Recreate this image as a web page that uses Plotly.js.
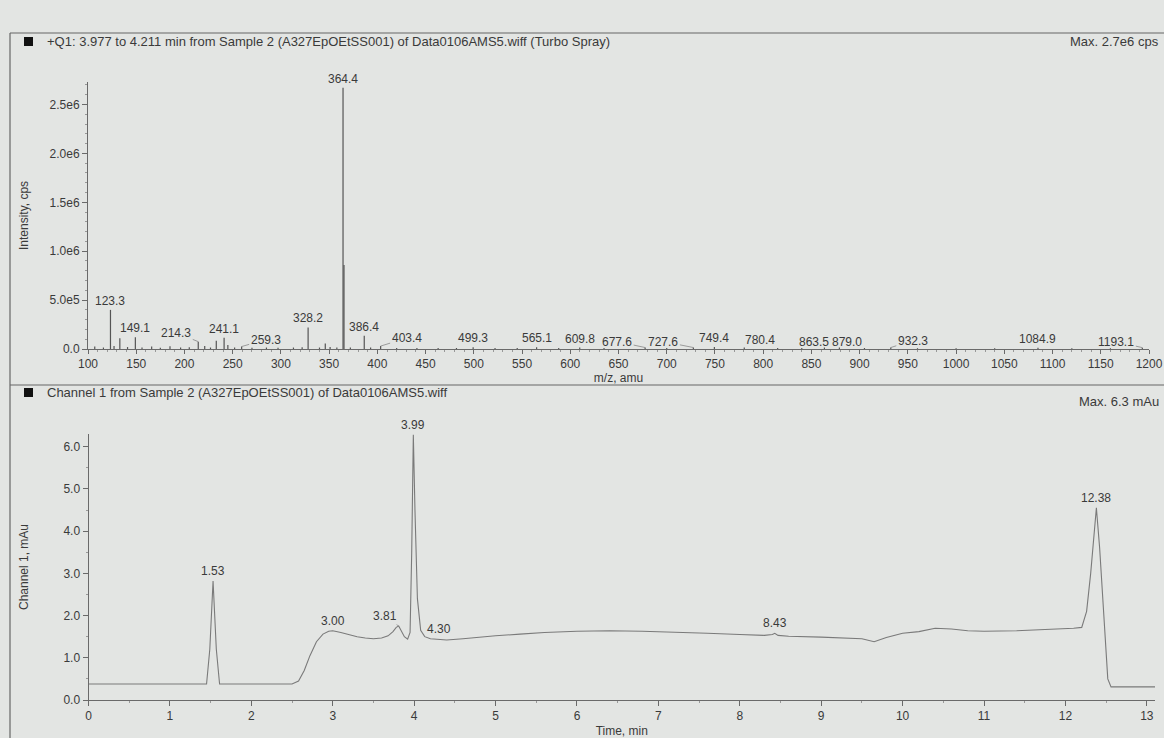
<!DOCTYPE html>
<html>
<head>
<meta charset="utf-8">
<script src="https://cdn.plot.ly/plotly-3.0.1.min.js"></script>
<style>
  html, body { margin: 0; padding: 0; background: #e3e5e3; }
  #chart { width: 1164px; height: 738px; }
</style>
</head>
<body>
<div id="chart"></div>
<script>
// ---------- Mass spectrum (top panel) ----------
const spectrumMz = [107, 116, 123.3, 127, 133, 141, 149.1, 156, 166, 175, 185, 196, 205, 214.3, 221, 227, 233, 241.1, 245, 252, 259.3, 270, 285, 297, 313, 322, 328.2, 340, 346, 351, 358, 364.4, 365.4, 372, 386.4, 393, 403.4, 420, 441, 463, 482, 499.3, 522, 545, 565.1, 588, 609.8, 635, 677.6, 700, 727.6, 749.4, 780.4, 815, 840, 863.5, 879.0, 905, 932.3, 960, 1000, 1040, 1084.9, 1120, 1160, 1193.1];
const spectrumIntensity = [2.5e4, 1.5e4, 4.0e5, 3.0e4, 1.1e5, 2.0e4, 1.2e5, 1.5e4, 2.5e4, 1.2e4, 2.8e4, 1.5e4, 1.8e4, 7.5e4, 3.0e4, 1.5e4, 8.5e4, 1.15e5, 4.0e4, 1.5e4, 2.5e4, 1.2e4, 1.5e4, 1.2e4, 1.5e4, 1.8e4, 2.2e5, 1.5e4, 5.5e4, 2.0e4, 1.5e4, 2.67e6, 8.6e5, 1.5e4, 1.35e5, 1.5e4, 3.0e4, 1.0e4, 1.0e4, 1.0e4, 1.0e4, 1.8e4, 1.0e4, 1.0e4, 1.8e4, 1.0e4, 1.5e4, 1.0e4, 1.5e4, 1.0e4, 1.5e4, 2.0e4, 1.6e4, 1.0e4, 1.0e4, 1.5e4, 1.5e4, 1.0e4, 1.5e4, 0.8e4, 0.8e4, 0.8e4, 1.4e4, 0.8e4, 0.8e4, 1.4e4];
const labeledMz = [123.3, 149.1, 214.3, 241.1, 259.3, 328.2, 364.4, 386.4, 403.4, 499.3, 565.1, 609.8, 677.6, 727.6, 749.4, 780.4, 863.5, 879.0, 932.3, 1084.9, 1193.1];
const mzTickVals = [100, 150, 200, 250, 300, 350, 400, 450, 500, 550, 600, 650, 700, 750, 800, 850, 900, 950, 1000, 1050, 1100, 1150, 1200];
const intensityTickVals = [0, 5e5, 1e6, 1.5e6, 2e6, 2.5e6];
const intensityTickText = ["0.0", "5.0e5", "1.0e6", "1.5e6", "2.0e6", "2.5e6"];

// ---------- Chromatogram (bottom panel) ----------
const timeMin = [0, 1.45, 1.49, 1.53, 1.57, 1.61, 2.5, 2.58, 2.65, 2.72, 2.8, 2.88, 2.95, 3.0, 3.1, 3.2, 3.3, 3.4, 3.5, 3.6, 3.68, 3.74, 3.78, 3.81, 3.84, 3.88, 3.92, 3.95, 3.97, 3.99, 4.01, 4.04, 4.08, 4.13, 4.2, 4.3, 4.4, 4.6, 4.8, 5.0, 5.3, 5.6, 6.0, 6.4, 6.8, 7.2, 7.6, 8.0, 8.3, 8.4, 8.43, 8.47, 8.6, 9.0, 9.3, 9.5, 9.65, 9.8, 10.0, 10.2, 10.4, 10.6, 10.8, 11.0, 11.4, 11.8, 12.1, 12.2, 12.26, 12.31, 12.35, 12.38, 12.42, 12.47, 12.52, 12.56, 13.1];
const absorbance = [0.38, 0.38, 1.2, 2.82, 1.2, 0.38, 0.38, 0.45, 0.7, 1.05, 1.38, 1.56, 1.63, 1.64, 1.6, 1.55, 1.5, 1.47, 1.45, 1.47, 1.52, 1.62, 1.72, 1.75, 1.65, 1.5, 1.44, 1.6, 3.5, 6.28, 4.5, 2.4, 1.65, 1.5, 1.45, 1.44, 1.42, 1.45, 1.49, 1.52, 1.56, 1.6, 1.63, 1.64, 1.63, 1.61, 1.58, 1.55, 1.53, 1.55, 1.58, 1.53, 1.51, 1.49, 1.47, 1.45, 1.38, 1.48, 1.58, 1.62, 1.7, 1.68, 1.64, 1.63, 1.64, 1.67, 1.7, 1.72, 2.1, 3.0, 3.9, 4.55, 3.6, 2.0, 0.5, 0.31, 0.31];
const labeledTimes = [1.53, 3.00, 3.81, 3.99, 4.30, 8.43, 12.38];
const timeTickVals = [0, 1, 2, 3, 4, 5, 6, 7, 8, 9, 10, 11, 12, 13];
const mauTickVals = [0, 1, 2, 3, 4, 5, 6];
const mauTickText = ["0.0", "1.0", "2.0", "3.0", "4.0", "5.0", "6.0"];

// ---------- styling (not data) ----------
const W = 1164, H = 738;
const px = v => v / W;           // pixel -> paper x
const py = v => 1 - v / H;       // pixel -> paper y
const ink = '#3a3a3a';
const lineInk = '#6a6a6a';
const FONT = 'Liberation Sans, Arial, sans-serif';

// stick spectrum built from the data arrays
const stickX = [], stickY = [];
spectrumMz.forEach((m, i) => { stickX.push(m, m, null); stickY.push(0, spectrumIntensity[i], null); });

const traces = [
  { type: 'scatter', mode: 'lines', x: stickX, y: stickY, xaxis: 'x', yaxis: 'y',
    line: { color: '#555', width: 1.2 }, hoverinfo: 'skip', showlegend: false },
  { type: 'scatter', mode: 'markers', x: [97], y: [0], xaxis: 'x', yaxis: 'y', cliponaxis: false,
    marker: { symbol: 'triangle-right', size: 8, color: '#111' }, showlegend: false, hoverinfo: 'skip' },
  { type: 'scatter', mode: 'lines', x: timeMin, y: absorbance, xaxis: 'x2', yaxis: 'y2',
    line: { color: '#7a7a7a', width: 1.1 }, showlegend: false, hoverinfo: 'skip' },
  { type: 'scatter', mode: 'markers', x: [-0.04], y: [absorbance[0]], xaxis: 'x2', yaxis: 'y2', cliponaxis: false,
    marker: { symbol: 'triangle-right', size: 8, color: '#111' }, showlegend: false, hoverinfo: 'skip' }
];

// label leader offsets [ax, ay] in px for peaks whose label is displaced
const mzLeader = { 214.3: [-22, -9], 259.3: [24, -7], 403.4: [26, -8], 677.6: [-28, -6], 727.6: [-30, -6],
  780.4: [16, -7], 863.5: [-10, -6], 879.0: [8, -6], 932.3: [22, -7], 1193.1: [-26, -6] };
const timeLeader = { 3.81: [-14, -10] };

const annotations = [];
labeledMz.forEach(m => {
  const inten = spectrumIntensity[spectrumMz.indexOf(m)];
  const lead = mzLeader[m];
  const base = { x: m, y: inten, xref: 'x', yref: 'y', text: m.toFixed(1),
    font: { family: FONT, size: 12, color: ink } };
  if (lead) {
    annotations.push(Object.assign(base, { showarrow: true, arrowhead: 0, arrowwidth: 0.8, arrowcolor: '#888',
      ax: lead[0], ay: lead[1], standoff: 0, startstandoff: 0 }));
  } else {
    annotations.push(Object.assign(base, { showarrow: false, yanchor: 'bottom', yshift: 0 }));
  }
});
labeledTimes.forEach(t => {
  const v = absorbance[timeMin.indexOf(t)];
  const lead = timeLeader[t];
  const base = { x: t, y: v, xref: 'x2', yref: 'y2', text: t.toFixed(2),
    font: { family: FONT, size: 12, color: ink } };
  if (lead) {
    annotations.push(Object.assign(base, { showarrow: true, arrowhead: 0, arrowwidth: 0.8, arrowcolor: '#888',
      ax: lead[0], ay: lead[1], standoff: 0 }));
  } else {
    annotations.push(Object.assign(base, { showarrow: false, yanchor: 'bottom', yshift: 1 }));
  }
});

// headers
const hdr = (text, x, y, anchor) => ({ xref: 'paper', yref: 'paper', x: x, y: y, xanchor: anchor, yanchor: 'middle',
  text: text, showarrow: false, font: { family: FONT, size: 13, color: ink } });
annotations.push(hdr('+Q1: 3.977 to 4.211 min from Sample 2 (A327EpOEtSS001) of Data0106AMS5.wiff (Turbo Spray)', px(45), py(41), 'left'));
annotations.push(hdr('Max. 2.7e6 cps', px(1161), py(41), 'right'));
annotations.push(hdr('Channel 1 from Sample 2 (A327EpOEtSS001) of Data0106AMS5.wiff', px(45), py(393), 'left'));
annotations.push(hdr('Max. 6.3 mAu', px(1161), py(401), 'right'));

const frameLine = { color: '#666', width: 1.2 };
const shapes = [
  { type: 'line', xref: 'paper', yref: 'paper', x0: px(10), x1: 1.01, y0: py(33), y1: py(33), line: frameLine },
  { type: 'line', xref: 'paper', yref: 'paper', x0: px(10), x1: px(10), y0: -0.01, y1: py(33), line: frameLine },
  { type: 'line', xref: 'paper', yref: 'paper', x0: px(10), x1: 1.01, y0: py(385), y1: py(385), line: frameLine },
  { type: 'rect', xref: 'paper', yref: 'paper', x0: px(24), x1: px(33), y0: py(46), y1: py(37), fillcolor: '#111', line: { width: 0 } },
  { type: 'rect', xref: 'paper', yref: 'paper', x0: px(24), x1: px(33), y0: py(397), y1: py(388), fillcolor: '#111', line: { width: 0 } }
];

const axisCommon = {
  showgrid: false, zeroline: false, showline: true, linecolor: lineInk, linewidth: 1,
  ticks: 'outside', ticklen: 5, tickcolor: lineInk, tickwidth: 1,
  tickfont: { family: FONT, size: 12, color: ink }, fixedrange: true
};

const layout = {
  width: W, height: H,
  margin: { l: 0, r: 0, t: 0, b: 0 },
  paper_bgcolor: '#e3e5e3', plot_bgcolor: '#e3e5e3',
  showlegend: false,
  xaxis: Object.assign({}, axisCommon, {
    domain: [px(88), px(1149)], range: [100, 1200], anchor: 'y',
    tickvals: mzTickVals, ticklen: 4,
    minor: { ticks: 'outside', ticklen: 2, tickcolor: '#999', dtick: 10 },
    title: { text: 'm/z, amu', standoff: 2, font: { family: FONT, size: 12, color: ink } }
  }),
  yaxis: Object.assign({}, axisCommon, {
    domain: [py(349), py(82)], range: [0, 2.73e6], anchor: 'x',
    tickvals: intensityTickVals, ticktext: intensityTickText,
    minor: { ticks: 'outside', ticklen: 2, tickcolor: '#999', dtick: 1e5 },
    title: { text: 'Intensity, cps', standoff: 18, font: { family: FONT, size: 12, color: ink } }
  }),
  xaxis2: Object.assign({}, axisCommon, {
    domain: [px(88.5), px(1155)], range: [0, 13.1], anchor: 'y2',
    tickvals: timeTickVals,
    minor: { ticks: 'outside', ticklen: 2, tickcolor: '#999', dtick: 0.5 },
    title: { text: 'Time, min', standoff: 4, font: { family: FONT, size: 12, color: ink } }
  }),
  yaxis2: Object.assign({}, axisCommon, {
    domain: [py(700), py(434)], range: [0, 6.3], anchor: 'x2',
    tickvals: mauTickVals, ticktext: mauTickText,
    minor: { ticks: 'outside', ticklen: 2, tickcolor: '#999', dtick: 0.5 },
    title: { text: 'Channel 1, mAu', standoff: 32, font: { family: FONT, size: 12, color: ink } }
  }),
  annotations: annotations,
  shapes: shapes
};

Plotly.newPlot('chart', traces, layout, { staticPlot: true, displayModeBar: false });
</script>
</body>
</html>
